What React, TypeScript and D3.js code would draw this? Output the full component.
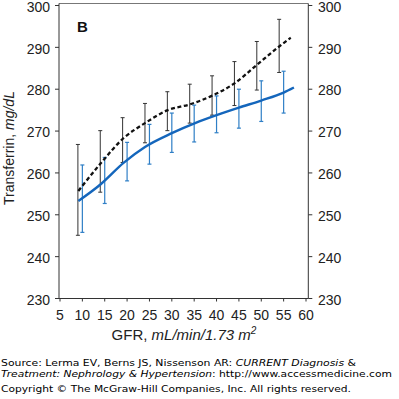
import React from 'react';
import * as d3 from 'd3';

// error bars (GFR position, low, high)
const blackX = [9, 14, 19, 24, 29, 34, 39, 44, 49, 54];
const blackLow = [245.1, 255.4, 262.5, 267.2, 270.1, 271.9, 273.8, 276.1, 279.8, 284.0];
const blackHigh = [266.8, 270.1, 273.2, 276.6, 279.4, 281.2, 283.2, 286.6, 291.4, 296.7];

const blueX = [10, 15, 20, 25, 30, 35, 40, 45, 50, 55];
const blueLow = [245.8, 252.7, 258.1, 262.1, 264.9, 267.4, 269.6, 270.7, 272.3, 274.3];
const blueHigh = [261.9, 263.7, 267.3, 271.6, 274.3, 276.2, 278.4, 280.0, 282.0, 284.3];

// fitted curves
const dashedGfr = [9.1, 14.1, 19.2, 24, 29.1, 34.1, 38.9, 44, 49, 54, 56.6];
const dashedVal = [255.7, 262.3, 268.3, 271.9, 275.0, 276.4, 278.4, 281.4, 285.8, 290.2, 292.3];

const solidGfr = [9.1, 14.1, 19.2, 24, 30, 35.2, 40, 45, 50, 55, 57.3];
const solidVal = [253.3, 257.3, 262.4, 266.2, 269.5, 271.9, 273.8, 275.6, 277.3, 279.2, 280.4];

const xTicks = [5, 10, 15, 20, 25, 30, 35, 40, 45, 50, 55, 60];
const yTicks = [230, 240, 250, 260, 270, 280, 290, 300];

const font = '"Liberation Sans", Arial, Helvetica, sans-serif';
const BLUE = '#1466bc';
const BAR_BLUE = '#2f7fc6';

export default function App() {
  const x = d3.scaleLinear().domain([5, 60]).range([60, 306]);
  const y = d3.scaleLinear().domain([230, 300]).range([298.5, 5.5]);

  const frame = { left: 59, right: 308.3, top: 3.5, bottom: 298.5 };

  const line = d3.line<[number, number]>()
    .x(d => x(d[0]))
    .y(d => y(d[1]))
    .curve(d3.curveMonotoneX);

  const dashedPath = line(dashedGfr.map((g, i) => [g, dashedVal[i]] as [number, number])) || '';
  const solidPath = line(solidGfr.map((g, i) => [g, solidVal[i]] as [number, number])) || '';

  const errorBar = (gx: number, lo: number, hi: number, color: string, w: number, key: string) => {
    const cx = x(gx);
    return (
      <g key={key} stroke={color} strokeWidth={w}>
        <line x1={cx} x2={cx} y1={y(lo)} y2={y(hi)} />
        <line x1={cx - 2} x2={cx + 2} y1={y(lo)} y2={y(lo)} />
        <line x1={cx - 2} x2={cx + 2} y1={y(hi)} y2={y(hi)} />
      </g>
    );
  };

  return (
    <svg width={399} height={399} style={{ position: 'absolute', left: 0, top: 0, background: '#fff' }}
      fontFamily={font}>
      {/* frame */}
      <line x1={frame.left} x2={frame.right} y1={frame.top} y2={frame.top} stroke="#777" strokeWidth={1} />
      <line x1={frame.left} x2={frame.left} y1={frame.top} y2={frame.bottom} stroke="#333" strokeWidth={1} />
      <line x1={frame.right} x2={frame.right} y1={frame.top} y2={frame.bottom} stroke="#333" strokeWidth={1} />
      <line x1={frame.left} x2={frame.right} y1={frame.bottom} y2={frame.bottom} stroke="#333" strokeWidth={1} />

      {/* y ticks both sides */}
      {yTicks.map(t => (
        <g key={'y' + t}>
          <line x1={frame.left - 4} x2={frame.left} y1={y(t)} y2={y(t)} stroke="#333" />
          <text x={50} y={y(t) + 1.2} dy="0.36em" textAnchor="end" fontSize={14} fill="#222">{t}</text>
          <line x1={frame.right} x2={frame.right + 4} y1={y(t)} y2={y(t)} stroke="#333" />
          <text x={318} y={y(t) + 1.2} dy="0.36em" textAnchor="start" fontSize={14} fill="#222">{t}</text>
        </g>
      ))}

      {/* x ticks */}
      {xTicks.map(t => (
        <g key={'x' + t}>
          <line x1={x(t)} x2={x(t)} y1={frame.bottom} y2={frame.bottom + 3} stroke="#333" />
          <text x={x(t)} y={319.5} textAnchor="middle" fontSize={14} fill="#222">{t}</text>
        </g>
      ))}

      {/* error bars */}
      {blackX.map((g, i) => errorBar(g, blackLow[i], blackHigh[i], '#333', 1, 'b' + i))}
      {blueX.map((g, i) => errorBar(g, blueLow[i], blueHigh[i], BAR_BLUE, 1.2, 'u' + i))}

      {/* curves */}
      <path d={dashedPath} fill="none" stroke="#111" strokeWidth={2.3} strokeDasharray="4,2.6" />
      <path d={solidPath} fill="none" stroke={BLUE} strokeWidth={2.4} />

      {/* panel label */}
      <text x={77} y={32} fontSize={15} fontWeight="bold" fill="#111">B</text>

      {/* axis titles */}
      <text x={184} y={340} textAnchor="middle" fontSize={15} fill="#222">
        GFR, <tspan fontStyle="italic">mL/min/1.73 m</tspan>
        <tspan fontStyle="italic" fontSize={10} dy={-6}>2</tspan>
      </text>
      <text transform="translate(14,148) rotate(-90)" textAnchor="middle" fontSize={14} fill="#222">
        Transferrin, <tspan fontStyle="italic">mg/dL</tspan>
      </text>

      {/* source footer */}
      <g fontFamily='"DejaVu Sans", Verdana, sans-serif' fontSize={8.5} fill="#000">
        <text x={1} y={366} textLength={355} lengthAdjust="spacingAndGlyphs">
          Source: Lerma EV, Berns JS, Nissenson AR: <tspan fontStyle="italic">CURRENT Diagnosis</tspan> &amp;
        </text>
        <text x={1} y={376.5} textLength={391} lengthAdjust="spacingAndGlyphs">
          <tspan fontStyle="italic">Treatment: Nephrology &amp; Hypertension</tspan>: http://www.accessmedicine.com
        </text>
        <text x={1} y={391.5} textLength={350} lengthAdjust="spacingAndGlyphs">
          Copyright © The McGraw-Hill Companies, Inc. All rights reserved.
        </text>
      </g>
    </svg>
  );
}
